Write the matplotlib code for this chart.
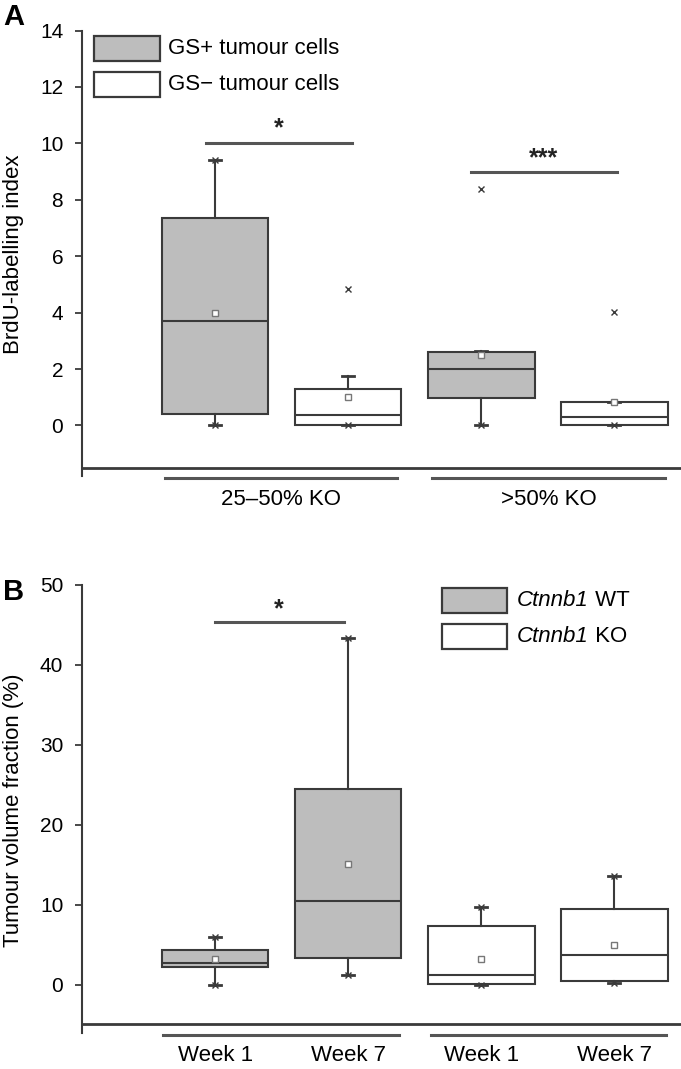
import matplotlib
matplotlib.use("Agg")
import matplotlib.pyplot as plt
from matplotlib.patches import Rectangle

plt.rcParams['font.family'] = ['Liberation Sans', 'DejaVu Sans']

# ---------------- Data ----------------
# Panel A: BrdU-labelling index
a_groups = ["25\u201350% KO", ">50% KO"]
a_series = ["GS+ tumour cells", "GS\u2212 tumour cells"]
a_q1 = [0.4, 0.0, 0.97, 0.0]
a_med = [3.7, 0.38, 2.0, 0.3]
a_q3 = [7.35, 1.3, 2.6, 0.85]
a_whislo = [0.0, 0.0, 0.0, 0.0]
a_whishi = [9.4, 1.75, 2.65, 0.85]
a_mean = [3.97, 1.0, 2.5, 0.85]
a_min = [0.0, 0.0, 0.0, 0.0]
a_max = [9.4, 4.83, 8.37, 4.02]

# Panel B: Tumour volume fraction (%)
b_groups = ["Week 1", "Week 7", "Week 1", "Week 7"]
b_gene = "Ctnnb1"
b_series = ["WT", "KO"]
b_q1 = [2.2, 3.35, 0.1, 0.45]
b_med = [2.8, 10.5, 1.2, 3.8]
b_q3 = [4.4, 24.5, 7.35, 9.5]
b_whislo = [0.0, 1.3, 0.0, 0.3]
b_whishi = [6.0, 43.3, 9.7, 13.6]
b_mean = [3.2, 15.1, 3.3, 4.95]
b_min = [0.0, 1.3, 0.0, 0.3]
b_max = [6.0, 43.3, 9.7, 13.6]

GREY = "#bdbdbd"
LC = "#3a3a3a"
FS = 16
TFS = 15

W, H = 681, 1069
fig = plt.figure(figsize=(W / 100, H / 100), dpi=100)


def px_axes(left, top, right, bottom):
    return fig.add_axes([left / W, 1 - bottom / H, (right - left) / W, (bottom - top) / H])


def draw_panel(ax, q1, med, q3, wlo, whi, mean, mn, mx, fills, ylim, spine_y, yticks):
    stats = []
    for i in range(4):
        stats.append(dict(q1=q1[i], med=med[i], q3=q3[i], whislo=wlo[i], whishi=whi[i],
                          mean=mean[i], fliers=[]))
    pos = [1, 2, 3, 4]
    bp = ax.bxp(stats, positions=pos, widths=0.8, showmeans=True, patch_artist=True,
                capwidths=0.09,
                boxprops=dict(edgecolor=LC, linewidth=1.5),
                medianprops=dict(color=LC, linewidth=1.5),
                whiskerprops=dict(color=LC, linewidth=1.5),
                capprops=dict(color=LC, linewidth=2.0),
                meanprops=dict(marker='s', markersize=4.5, markerfacecolor='white',
                               markeredgecolor='#777777', markeredgewidth=1.0))
    for b, f in zip(bp['boxes'], fills):
        b.set_facecolor(GREY if f else 'white')
    ax.plot(pos, mn, linestyle='none', marker='x', markersize=5, color=LC, mew=1.0)
    ax.plot(pos, mx, linestyle='none', marker='x', markersize=5, color=LC, mew=1.0)
    ax.set_xlim(0, 4.5)
    ax.set_ylim(*ylim)
    for s in ['top', 'right', 'bottom']:
        ax.spines[s].set_visible(False)
    ax.spines['left'].set_color(LC)
    ax.spines['left'].set_linewidth(1.5)
    ax.spines['left'].set_bounds(ylim[0], yticks[-1])
    ax.axhline(spine_y, color=LC, linewidth=2.0, clip_on=False)
    ax.set_yticks(yticks)
    ax.set_yticklabels([str(t) for t in yticks], fontsize=TFS)
    ax.tick_params(axis='y', direction='out', length=5, width=1.3, color=LC, pad=8.5)
    ax.set_xticks([])
    ax.patch.set_visible(False)


# ---------------- Panel A ----------------
axA = px_axes(82, 30.5, 681, 476)
draw_panel(axA, a_q1, a_med, a_q3, a_whislo, a_whishi, a_mean, a_min, a_max,
           [True, False, True, False], (-1.79, 14), -1.51, [0, 2, 4, 6, 8, 10, 12, 14])
axA.set_ylabel("BrdU-labelling index", fontsize=FS)
axA.yaxis.set_label_coords(-58 / 599, (476 - 254) / 445.5)
# significance
axA.plot([0.93, 2.03], [10.0, 10.0], color='#555555', lw=2.2)
axA.text(1.48, 10.1, "*", ha='center', va='bottom', fontsize=18, fontweight='bold', color='#222222')
axA.plot([2.92, 4.02], [9.0, 9.0], color='#555555', lw=2.2)
axA.text(3.47, 9.05, "***", ha='center', va='bottom', fontsize=18, fontweight='bold', color='#222222')
# group lines and labels
trA = axA.get_xaxis_transform()
for (x0, x1), lab in zip([(0.62, 2.37), (2.63, 4.38)], a_groups):
    axA.plot([x0, x1], [-0.004, -0.004], transform=trA, color='#555555', lw=2.2, clip_on=False)
    axA.text((x0 + x1) / 2, -0.053, lab, transform=trA, ha='center', va='center', fontsize=FS)

# legend A
for i, (lab, fc) in enumerate(zip(a_series, [GREY, 'white'])):
    top = 35.7 + i * 36
    fig.patches.append(Rectangle((94 / W, 1 - (top + 25.3) / H), 66 / W, 25.3 / H,
                                 transform=fig.transFigure, facecolor=fc, edgecolor=LC, lw=1.6))
    fig.text(168 / W, 1 - (top + 12.6) / H, lab, fontsize=FS, va='center', ha='left')

fig.text(3 / W, 1 - 17 / H, "A", fontsize=21, fontweight='bold', va='center', ha='left')

# ---------------- Panel B ----------------
axB = px_axes(82, 584.8, 681, 1033)
draw_panel(axB, b_q1, b_med, b_q3, b_whislo, b_whishi, b_mean, b_min, b_max,
           [True, True, False, False], (-6.0, 50), -4.9, [0, 10, 20, 30, 40, 50])
axB.set_ylabel("Tumour volume fraction (%)", fontsize=FS)
axB.yaxis.set_label_coords(-58 / 599, (1033 - 810) / 448.2)
axB.plot([1.0, 1.97], [45.3, 45.3], color='#555555', lw=2.2)
axB.text(1.48, 45.5, "*", ha='center', va='bottom', fontsize=18, fontweight='bold', color='#222222')
trB = axB.get_xaxis_transform()
for (x0, x1) in [(0.61, 2.38), (2.62, 4.39)]:
    axB.plot([x0, x1], [-0.005, -0.005], transform=trB, color='#555555', lw=2.2, clip_on=False)
for i, lab in enumerate(b_groups):
    axB.text(i + 1, -0.05, lab, transform=trB, ha='center', va='center', fontsize=FS)

# legend B
for i, (lab, fc) in enumerate(zip(b_series, [GREY, 'white'])):
    top = 587.7 + i * 36.3
    fig.patches.append(Rectangle((442 / W, 1 - (top + 24.8) / H), 64.5 / W, 24.8 / H,
                                 transform=fig.transFigure, facecolor=fc, edgecolor=LC, lw=1.6))
    t = fig.text(517 / W, 1 - (top + 12.4) / H, b_gene, fontsize=FS, fontstyle='italic',
                 va='baseline', ha='left')
    t.set_va('center')
    fig.text(0, 0, " " + lab, fontsize=FS, va='center', ha='left',
             transform=matplotlib.transforms.offset_copy(fig.transFigure, fig=fig, x=0, y=0))
    fig.texts[-1].remove()
    axB.annotate(" " + lab, xy=(1, 0.5), xycoords=t, va='center', ha='left', fontsize=FS,
                 annotation_clip=False)

fig.text(3 / W, 1 - 592 / H, "B", fontsize=21, fontweight='bold', va='center', ha='left')

fig.savefig("out.png", dpi=100)
